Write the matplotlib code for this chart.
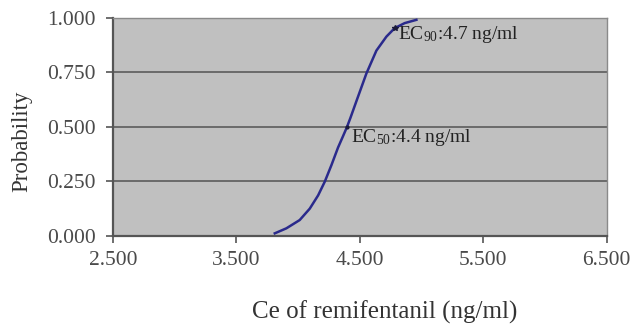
import matplotlib.pyplot as plt

plt.rcParams['font.family'] = ['Liberation Serif', 'DejaVu Serif']
plt.rcParams['mathtext.fontset'] = 'custom'
plt.rcParams['mathtext.rm'] = 'Liberation Serif'
plt.rcParams['mathtext.default'] = 'regular'

# values
ce = [3.812, 3.906, 4.014, 4.095, 4.163, 4.217, 4.271, 4.324, 4.365, 4.397,
      4.425, 4.473, 4.554, 4.635, 4.716, 4.783, 4.864, 4.959]
prob = [0.012, 0.035, 0.073, 0.125, 0.186, 0.249, 0.325, 0.405, 0.458, 0.500,
        0.542, 0.618, 0.745, 0.850, 0.914, 0.953, 0.976, 0.991]
ec50 = (4.397, 0.5)
ec90 = (4.783, 0.953)
xticks = [2.5, 3.5, 4.5, 5.5, 6.5]
yticks = [0.0, 0.25, 0.5, 0.75, 1.0]

fig = plt.figure(figsize=(6.3, 3.25), dpi=100)
ax = fig.add_axes([0.179, 0.274, 0.784, 0.671])
ax.set_facecolor('#c0c0c0')

for y in yticks[1:-1]:
    ax.axhline(y, color='#6a6a6a', lw=1.4, zorder=1)

ax.plot(ce, prob, color='#2a2a8c', lw=1.8, zorder=3, solid_joinstyle='round')
ax.plot(*ec50, marker='.', color='#1a1a3a', ms=4, zorder=4)
ax.plot(*ec90, marker='*', color='#1a1a3a', ms=4, zorder=4)
ax.text(4.81, 0.925, 'EC$_{90}$:4.7 ng/ml', fontsize=14,
        va='center', ha='left', color='#222222')
ax.text(4.43, 0.45, 'EC$_{50}$:4.4 ng/ml', fontsize=14,
        va='center', ha='left', color='#222222')

ax.set_xlim(2.5, 6.5)
ax.set_ylim(0, 1)
ax.set_xticks(xticks)
ax.set_yticks(yticks)
ax.set_xticklabels([f'{v:.3f}' for v in xticks])
ax.set_yticklabels([f'{v:.3f}' for v in yticks])
ax.tick_params(direction='out', length=5, width=1.2, colors='#555555',
               labelcolor='#4a4a4a', labelsize=15.5)
ax.tick_params(axis='x', pad=6)
ax.tick_params(axis='y', pad=7)

for side in ['left', 'bottom']:
    ax.spines[side].set_color('#555555')
    ax.spines[side].set_linewidth(1.6)
for side in ['right', 'top']:
    ax.spines[side].set_color('#8a8a8a')
    ax.spines[side].set_linewidth(1.0)

fig.text(0.035, 0.565, 'Probability', fontsize=16.5, color='#333333',
         rotation=90, ha='center', va='center')
fig.text(0.61, 0.04, 'Ce of remifentanil (ng/ml)', fontsize=18,
         color='#333333', ha='center', va='center')

fig.savefig('out.png')
